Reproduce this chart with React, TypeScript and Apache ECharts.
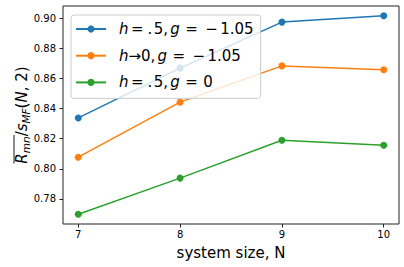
import React, { useEffect, useRef } from "react";
import * as echarts from "echarts";

const xValues = [7, 8, 9, 10];
const seriesNames = ["s1", "s2", "s3"];
const blueValues = [0.8338, 0.8669, 0.8975, 0.9017];
const orangeValues = [0.8077, 0.8443, 0.8684, 0.8658];
const greenValues = [0.7698, 0.7938, 0.819, 0.8157];
const xTicks = [7, 8, 9, 10];
const yTicks = [0.78, 0.8, 0.82, 0.84, 0.86, 0.88, 0.9];
const colors = ["#1f77b4", "#ff7f0e", "#2ca02c"];
const legendLabels: Record<string, string> = {
  s1: "{h|h}{eq|=}{dot|.}{five|5,}{g|g}{eq2|=}{mi|−}{num|1.05}",
  s2: "{h|h}{n|→0,}{g|g}{eq2|=}{mi|−}{num|1.05}",
  s3: "{h|h}{eq|=}{dot|.}{five|5,}{g|g}{eq2|=}{z|0}",
};

const FONT = "DejaVu Sans";

export default function App() {
  const ref = useRef<HTMLDivElement>(null);
  useEffect(() => {
    if (!ref.current) return;
    const chart = echarts.init(ref.current, undefined, { renderer: "svg" });
    const allSeries = [blueValues, orangeValues, greenValues];
    const base = { fontFamily: FONT, fontSize: 15, color: "#000", lineHeight: 18 };
    chart.setOption({
      animation: false,
      grid: {
        left: 63,
        right: 5,
        top: 6,
        bottom: 43,
        show: true,
        borderColor: "#222",
        borderWidth: 1,
        backgroundColor: "transparent",
      },
      xAxis: {
        type: "value",
        min: 6.85,
        max: 10.15,
        splitLine: { show: false },
        axisLine: { show: false },
        axisTick: { show: true, length: 3.5, customValues: xTicks, lineStyle: { color: "#222", width: 1 } },
        axisLabel: {
          customValues: xTicks,
          fontFamily: FONT,
          fontSize: 10,
          color: "#000",
          margin: 5.5,
          formatter: (v: number) => String(v),
        },
        name: "system size, N",
        nameLocation: "middle",
        nameGap: 21.5,
        nameTextStyle: { fontFamily: FONT, fontSize: 15, color: "#000" },
      },
      yAxis: {
        type: "value",
        min: 0.7633,
        max: 0.9082,
        splitLine: { show: false },
        axisLine: { show: false },
        axisTick: { show: true, length: 3.5, customValues: yTicks, lineStyle: { color: "#222", width: 1 } },
        axisLabel: {
          customValues: yTicks,
          fontFamily: FONT,
          fontSize: 10,
          color: "#000",
          margin: 7,
          formatter: (v: number) => v.toFixed(2),
        },
      },
      legend: {
        orient: "vertical",
        left: 71,
        top: 15,
        itemWidth: 30,
        itemHeight: 9,
        itemGap: 8.7,
        padding: [5, 7, 7, 4],
        backgroundColor: "rgba(255,255,255,0.8)",
        borderColor: "#cccccc",
        borderWidth: 1,
        borderRadius: 3,
        data: seriesNames,
        formatter: (name: string) => legendLabels[name],
        textStyle: {
          ...base,
          rich: {
            h: { ...base, fontStyle: "italic", padding: [0, 0, 0, 8] },
            eq: { ...base, padding: [0, 0, 0, 2.5] },
            dot: { ...base, padding: [0, 0, 0, 4] },
            five: { ...base, padding: [0, 0, 0, 1.5] },
            g: { ...base, fontStyle: "italic", padding: [0, 0, 0, 2] },
            eq2: { ...base, padding: [0, 0, 0, 5.5] },
            mi: { ...base, padding: [0, 0, 0, 7.5] },
            num: { ...base, padding: [0, 0, 0, 2.4] },
            z: { ...base, padding: [0, 0, 0, 5.6] },
            n: { ...base },
          },
        },
      },
      graphic: [
        {
          type: "group",
          x: 21.5,
          y: 115,
          rotation: Math.PI / 2,
          children: [
            {
              type: "text",
              x: 0,
              y: 0,
              style: {
                text: "{R|R}{sub|mn}{n|/}{R|s}{sub|MF}{n|(}{R|N}{n|, 2)}",
                align: "center",
                verticalAlign: "middle",
                textAlign: "center",
                textVerticalAlign: "middle",
                fill: "#000",
                font: "15px DejaVu Sans",
                rich: {
                  R: { fontFamily: FONT, fontSize: 15, fontStyle: "italic", lineHeight: 20, color: "#000" },
                  n: { fontFamily: FONT, fontSize: 15, lineHeight: 20, color: "#000" },
                  sub: {
                    fontFamily: FONT,
                    fontSize: 10.5,
                    fontStyle: "italic",
                    lineHeight: 10.5,
                    padding: [8, 0, 0, 0],
                    color: "#000",
                  },
                },
              },
            },
            {
              type: "line",
              shape: { x1: -48.5, y1: -7.5, x2: -20, y2: -7.5 },
              style: { stroke: "#000", lineWidth: 0.9 },
            },
          ],
        },
      ],
      series: allSeries.map((vals, i) => ({
        name: seriesNames[i],
        type: "line",
        data: xValues.map((x, j) => [x, vals[j]]),
        symbol: "circle",
        symbolSize: 7,
        showSymbol: true,
        lineStyle: { color: colors[i], width: 1.5 },
        itemStyle: { color: colors[i] },
        emphasis: { disabled: true },
      })),
    });
    return () => chart.dispose();
  }, []);
  return (
    <div
      ref={ref}
      style={{ position: "fixed", left: 0, top: 0, width: 404, height: 267, background: "#fff" }}
    />
  );
}
